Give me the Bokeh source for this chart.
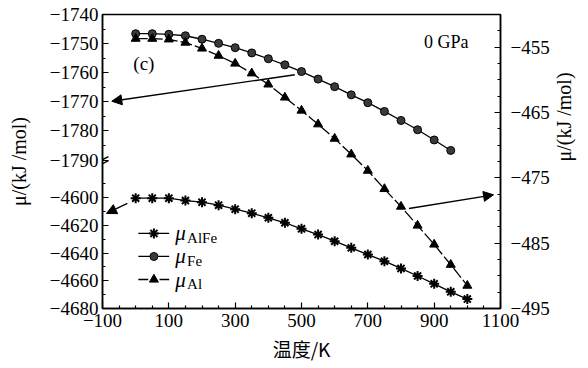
import math
from bokeh.plotting import figure
from bokeh.models import (Range1d, LinearAxis, FixedTicker, CustomJSTickFormatter,
                          Arrow, NormalHead)
from bokeh.core.properties import value
from bokeh.embed import file_html
from bokeh.resources import INLINE

# ---------------- data ----------------
temp_fe = [0, 50, 100, 150, 200, 250, 300, 350, 400, 450, 500, 550, 600, 650,
           700, 750, 800, 850, 900, 950]
mu_fe = [-1746.6, -1746.6, -1746.8, -1747.3, -1748.5, -1749.9, -1751.4, -1753.2,
         -1755.2, -1757.3, -1759.6, -1762.2, -1764.8, -1767.6, -1770.3, -1773.3,
         -1776.4, -1779.6, -1783.1, -1786.7]

temp = [0, 50, 100, 150, 200, 250, 300, 350, 400, 450, 500, 550, 600, 650,
        700, 750, 800, 850, 900, 950, 1000]
mu_alfe = [-4600.5, -4600.5, -4600.5, -4602.2, -4603.4, -4605.5, -4608.4, -4611.3,
           -4614.6, -4618.2, -4622.6, -4626.7, -4631.5, -4636.3, -4641.1, -4645.9,
           -4651.1, -4656.6, -4662.2, -4668.0, -4673.2]
mu_al = [-453.7, -453.7, -453.8, -454.3, -455.2, -456.3, -457.5, -459.0, -460.7,
         -462.7, -464.7, -466.8, -469.0, -471.4, -473.9, -476.7, -479.4, -482.3,
         -485.2, -488.3, -491.5]

x_ticks = [-100, 100, 300, 500, 700, 900, 1100]
fe_ticks = [-1790, -1780, -1770, -1760, -1750, -1740]
alfe_ticks = [-4680, -4660, -4640, -4620, -4600]
al_ticks = [-495, -485, -475, -465, -455]

# ---------------- ranges ----------------
FE_LO, FE_HI = -1841.0, -1740.0
AF_LO, AF_HI = -4680.0, -4468.1
AL_LO, AL_HI = -495.0, -450.0


def af_to_fe(a):
    return FE_LO + (a - AF_LO) * (FE_HI - FE_LO) / (AF_HI - AF_LO)


SERIF = "Liberation Serif"
TICK_SIZE = "19px"

p = figure(width=588, height=368, x_range=Range1d(-100, 1100),
           y_range=Range1d(FE_LO, FE_HI), output_backend="svg",
           toolbar_location=None, min_border_left=102, min_border_right=86,
           min_border_top=14, min_border_bottom=60)
p.extra_y_ranges = {"alfe": Range1d(AF_LO, AF_HI), "al": Range1d(AL_LO, AL_HI)}
p.xgrid.visible = False
p.ygrid.visible = False
p.outline_line_color = "black"
p.outline_line_width = 1.5
p.background_fill_color = "white"
p.border_fill_color = "white"

minus_fmt = CustomJSTickFormatter(code="""
    const v = Math.round(tick);
    return (v < 0 ? "\\u2212" : "") + Math.abs(v);
""")

left_fmt = CustomJSTickFormatter(code=f"""
    let v = tick;
    if (tick < -1800) {{
        v = {AF_LO} + (tick - ({FE_LO})) * ({AF_HI} - ({AF_LO})) / ({FE_HI} - ({FE_LO}));
    }}
    v = Math.round(v);
    return (v < 0 ? "\\u2212" : "") + Math.abs(v);
""")


def style_axis(ax, standoff):
    ax.major_label_text_font = SERIF
    ax.major_label_text_font_size = TICK_SIZE
    ax.major_label_text_color = "black"
    ax.major_label_standoff = standoff
    ax.axis_label_text_font = SERIF
    ax.axis_label_text_font_size = "20px"
    ax.axis_label_text_font_style = "normal"
    ax.axis_label_text_color = "black"
    ax.major_tick_in = 6
    ax.major_tick_out = 0
    ax.minor_tick_in = 3
    ax.minor_tick_out = 0
    ax.axis_line_width = 1.5
    ax.major_tick_line_width = 1.2
    ax.minor_tick_line_width = 1.2


# x axis
xa = p.xaxis[0]
xa.ticker = FixedTicker(ticks=x_ticks,
                        minor_ticks=[t + d for t in x_ticks[:-1] for d in (50, 100, 150)])
xa.formatter = minus_fmt
style_axis(xa, 5)
xa.axis_label = "温度/K"
xa.axis_label_text_font = "Noto Sans CJK SC"
xa.axis_label_text_font_size = "19px"
xa.axis_label_standoff = 5

# left axis (broken): upper part = Fe scale, lower part = AlFe scale
ya = p.yaxis[0]
left_major = [af_to_fe(a) for a in alfe_ticks] + fe_ticks
left_minor = ([af_to_fe(a + 10) for a in alfe_ticks]
              + [t + 5 for t in fe_ticks[:-1]])
ya.ticker = FixedTicker(ticks=left_major, minor_ticks=left_minor)
ya.formatter = left_fmt
style_axis(ya, 4)
ya.axis_label = "μ/(kJ /mol)"
ya.axis_label_standoff = 17

# right axis: Al scale
ra = LinearAxis(y_range_name="al")
ra.ticker = FixedTicker(ticks=al_ticks,
                        minor_ticks=[t + d for t in al_ticks for d in (2.5, 5, 7.5)])
ra.formatter = minus_fmt
style_axis(ra, 10)
ra.axis_label = "μ/(kJ /mol)"
ra.axis_label_standoff = 11
try:
    ra.axis_label_orientation = math.pi / 2
except Exception as e:
    print("no axis_label_orientation:", e)
p.add_layout(ra, "right")

# ---------------- series ----------------
p.line(temp_fe, mu_fe, line_color="black", line_width=1.3)
p.scatter(temp_fe, mu_fe, marker="circle", size=8, fill_color="#3a3a3a",
          line_color="black", line_width=1)

p.line(temp, mu_alfe, y_range_name="alfe", line_color="black", line_width=1.3)
p.scatter(temp, mu_alfe, y_range_name="alfe", marker="asterisk", size=10,
          line_color="black", line_width=2)

p.line(temp, mu_al, y_range_name="al", line_color="black", line_width=1.3,
       line_dash="12 3")
p.scatter(temp, mu_al, y_range_name="al", marker="triangle", size=9,
          fill_color="black", line_color="black")

# ---------------- arrows ----------------
def arrow(x0, y0, x1, y1, rng=None):
    kw = dict(end=NormalHead(size=10, fill_color="black", line_color="black"),
              x_start=x0, y_start=y0, x_end=x1, y_end=y1,
              line_color="black", line_width=1.4)
    if rng:
        kw["y_range_name"] = rng
    p.add_layout(Arrow(**kw))


arrow(480, -1760.7, -72, -1769.8)
arrow(-25, -4604.3, -88, -4611.5, "alfe")
arrow(824, -479.7, 1079, -477.6, "al")

# axis break marks
for dy in (0.0, -1.4):
    p.add_layout(Arrow(end=None, x_start=-118, y_start=-1790.9 + dy,
                       x_end=-82, y_end=-1788.8 + dy,
                       line_color="black", line_width=1.4))

# ---------------- texts ----------------
p.text(x=[-7], y=[-1756.8], text=["(c)"], text_font=value(SERIF),
       text_font_size="19px", text_baseline="middle", text_align="left")
p.text(x=[869], y=[-1749.6], text=["0 GPa"], text_font=value(SERIF),
       text_font_size="18px", text_baseline="middle", text_align="left")

# ---------------- legend (drawn by hand for subscripts) ----------------
leg_y = [-4625.9, -4642.5, -4659.1]
leg_sub = ["AlFe", "Fe", "Al"]
p.segment(x0=[8, 8], y0=leg_y[:2], x1=[101, 101], y1=leg_y[:2],
          y_range_name="alfe", line_color="black", line_width=1.3)
p.segment(x0=[8, 72], y0=[leg_y[2]] * 2, x1=[38, 101], y1=[leg_y[2]] * 2,
          y_range_name="alfe", line_color="black", line_width=1.3)
p.scatter([55], [leg_y[0]], y_range_name="alfe", marker="asterisk", size=10,
          line_color="black", line_width=2)
p.scatter([55], [leg_y[1]], y_range_name="alfe", marker="circle", size=8,
          fill_color="#3a3a3a", line_color="black")
p.scatter([55], [leg_y[2]], y_range_name="alfe", marker="triangle", size=9,
          fill_color="black", line_color="black")
p.text(x=[119] * 3, y=leg_y, text=["μ"] * 3, y_range_name="alfe",
       text_font=value(SERIF), text_font_style="italic", text_font_size="21px",
       text_baseline="middle", text_align="left")
p.text(x=[155] * 3, y=[v - 3.0 for v in leg_y], text=leg_sub, y_range_name="alfe",
       text_font=value(SERIF), text_font_size="15px",
       text_baseline="middle", text_align="left")

open("out.html", "w").write(file_html(p, INLINE))
